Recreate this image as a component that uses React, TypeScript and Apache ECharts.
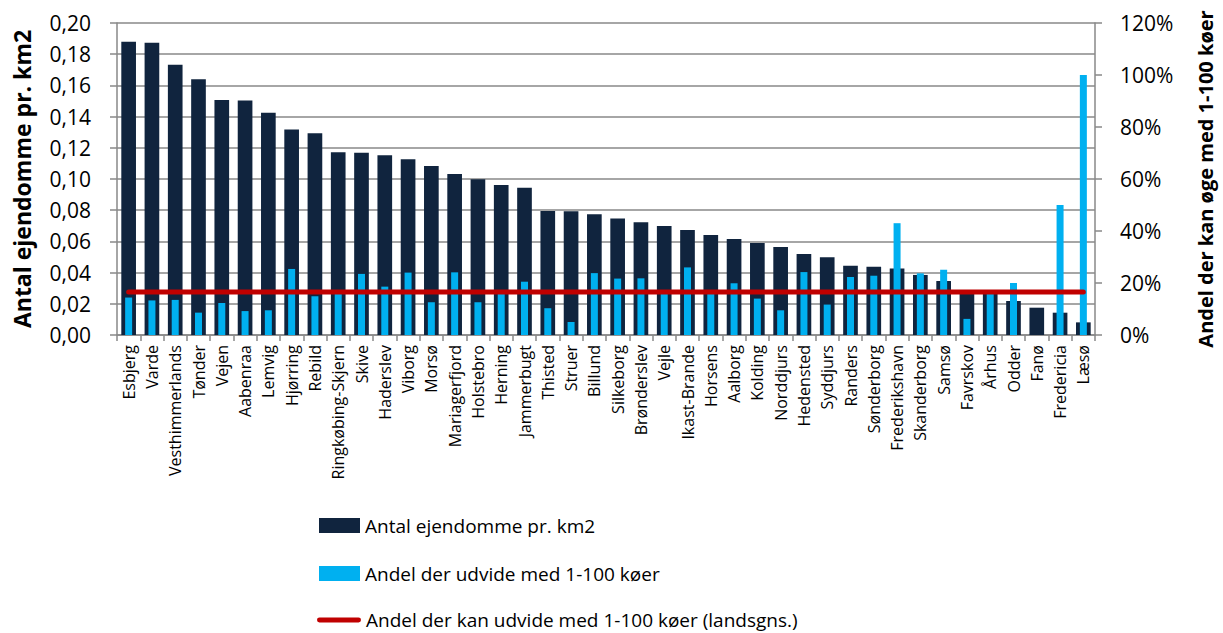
import React, { useEffect, useRef } from "react";
import * as echarts from "echarts";

const categories = [
  "Esbjerg", "Varde", "Vesthimmerlands", "Tønder", "Vejen", "Aabenraa", "Lemvig",
  "Hjørring", "Rebild", "Ringkøbing-Skjern", "Skive", "Haderslev", "Viborg", "Morsø",
  "Mariagerfjord", "Holstebro", "Herning", "Jammerbugt", "Thisted", "Struer", "Billund",
  "Silkeborg", "Brønderslev", "Vejle", "Ikast-Brande", "Horsens", "Aalborg", "Kolding",
  "Norddjurs", "Hedensted", "Syddjurs", "Randers", "Sønderborg", "Frederikshavn",
  "Skanderborg", "Samsø", "Favrskov", "Århus", "Odder", "Fanø", "Fredericia", "Læsø",
];

const propertiesPerKm2 = [
  0.188, 0.1874, 0.1733, 0.1639, 0.1506, 0.1504, 0.1425,
  0.1318, 0.1293, 0.1171, 0.1169, 0.1152, 0.1126, 0.1083,
  0.1032, 0.0998, 0.0962, 0.0944, 0.0795, 0.0793, 0.0774,
  0.0746, 0.0722, 0.0699, 0.0673, 0.0641, 0.0615, 0.059,
  0.0564, 0.0519, 0.0498, 0.0444, 0.0438, 0.0427,
  0.0385, 0.0346, 0.027, 0.027, 0.0218, 0.0175, 0.0143, 0.0081,
];

const shareExpand = [
  0.144, 0.133, 0.135, 0.086, 0.123, 0.092, 0.095,
  0.254, 0.149, 0.16, 0.235, 0.186, 0.24, 0.126,
  0.241, 0.126, 0.16, 0.205, 0.103, 0.05, 0.238,
  0.217, 0.218, 0.16, 0.26, 0.16, 0.199, 0.14,
  0.095, 0.242, 0.117, 0.223, 0.228, 0.43,
  0.237, 0.251, 0.062, 0.16, 0.2, null, 0.5, 1.0,
];

const nationalAverage = 0.165;

const seriesNames = [
  "Antal ejendomme pr. km2",
  "Andel der udvide med 1-100 køer",
  "Andel der kan udvide med 1-100 køer (landsgns.)",
];

const leftAxisName = "Antal ejendomme pr. km2";
const rightAxisName = "Andel der kan øge med 1-100 køer";

const FONT = "'Open Sans', sans-serif";
const GRID_COLOR = "#888888";
const DARK = "#10243E";
const LIGHT = "#00B0F0";
const RED = "#C00000";

const legendText = { fontFamily: FONT, fontSize: 19, color: "#000" };

export default function App() {
  const ref = useRef<HTMLDivElement>(null);

  useEffect(() => {
    if (!ref.current) return;
    const chart = echarts.init(ref.current, undefined, { renderer: "svg" });
    const lineData = categories.map(() => nationalAverage);

    chart.setOption({
      animation: false,
      backgroundColor: "#ffffff",
      textStyle: { fontFamily: FONT, color: "#000" },
      grid: { left: 117, right: 125, top: 23, height: 312, containLabel: false },
      legend: [
        {
          left: 319,
          top: 516,
          padding: 0,
          itemWidth: 41,
          itemHeight: 15,
          textStyle: legendText,
          data: [{ name: seriesNames[0], icon: "rect", itemStyle: { color: DARK } }],
        },
        {
          left: 319,
          top: 564,
          padding: 0,
          itemWidth: 41,
          itemHeight: 15,
          textStyle: legendText,
          data: [{ name: seriesNames[1], icon: "rect", itemStyle: { color: LIGHT } }],
        },
        {
          left: 317,
          top: 610,
          padding: 0,
          itemWidth: 44,
          itemHeight: 15,
          textStyle: legendText,
          data: [
            {
              name: seriesNames[2],
              icon: "path://M2,5.5 L42,5.5 A2.5,2.5 0 0 1 42,10.5 L2,10.5 A2.5,2.5 0 0 1 2,5.5 Z M0,0 L0,0.01 M44,15 L44,15.01",
              itemStyle: { color: RED, borderWidth: 0 },
            },
          ],
        },
      ],
      xAxis: [
        {
          type: "category",
          data: categories,
          boundaryGap: true,
          axisLine: { lineStyle: { color: GRID_COLOR, width: 1.5 } },
          axisTick: { show: true, length: 6, lineStyle: { color: GRID_COLOR, width: 1.5 } },
          axisLabel: {
            interval: 0,
            rotate: 90,
            fontSize: 16,
            margin: 10,
            color: "#000",
            fontFamily: FONT,
          },
        },
        {
          type: "category",
          data: categories,
          show: false,
          position: "bottom",
        },
      ],
      yAxis: [
        {
          type: "value",
          min: 0,
          max: 0.2,
          interval: 0.02,
          name: leftAxisName,
          nameLocation: "middle",
          nameRotate: 90,
          nameGap: 84,
          nameTextStyle: { fontFamily: FONT, fontSize: 23, fontWeight: "bold", color: "#000" },
          axisLine: { show: true, lineStyle: { color: GRID_COLOR, width: 1.5 } },
          axisTick: { show: true, length: 7, lineStyle: { color: GRID_COLOR, width: 1.5 } },
          axisLabel: {
            fontSize: 21,
            margin: 26,
            color: "#000",
            fontFamily: FONT,
            formatter: (v: number) => v.toFixed(2).replace(".", ","),
          },
          splitLine: { show: true, lineStyle: { color: GRID_COLOR, width: 1.5 } },
        },
        {
          type: "value",
          min: 0,
          max: 1.2,
          interval: 0.2,
          position: "right",
          name: rightAxisName,
          nameLocation: "middle",
          nameRotate: 90,
          nameGap: 100,
          nameTextStyle: { fontFamily: FONT, fontSize: 20, fontWeight: "bold", color: "#000" },
          axisLine: { show: true, lineStyle: { color: GRID_COLOR, width: 1.5 } },
          axisTick: { show: true, length: 7, lineStyle: { color: GRID_COLOR, width: 1.5 } },
          axisLabel: {
            fontSize: 21,
            margin: 25,
            color: "#000",
            fontFamily: FONT,
            formatter: (v: number) => Math.round(v * 100) + "%",
          },
          splitLine: { show: false },
        },
      ],
      series: [
        {
          name: seriesNames[0],
          type: "bar",
          xAxisIndex: 0,
          yAxisIndex: 0,
          data: propertiesPerKm2,
          barWidth: "63%",
          itemStyle: { color: DARK },
          z: 2,
        },
        {
          name: seriesNames[1],
          type: "bar",
          xAxisIndex: 1,
          yAxisIndex: 1,
          data: shareExpand,
          barWidth: 7,
          itemStyle: { color: LIGHT },
          z: 3,
        },
        {
          name: seriesNames[2],
          type: "line",
          xAxisIndex: 0,
          yAxisIndex: 1,
          data: lineData,
          symbol: "none",
          showSymbol: false,
          lineStyle: { color: RED, width: 5, cap: "round" },
          itemStyle: { color: RED },
          z: 4,
        },
      ],
    });

    return () => chart.dispose();
  }, []);

  return (
    <div
      ref={ref}
      style={{ position: "fixed", left: 0, top: 0, width: 1223, height: 633, background: "#fff" }}
    />
  );
}
